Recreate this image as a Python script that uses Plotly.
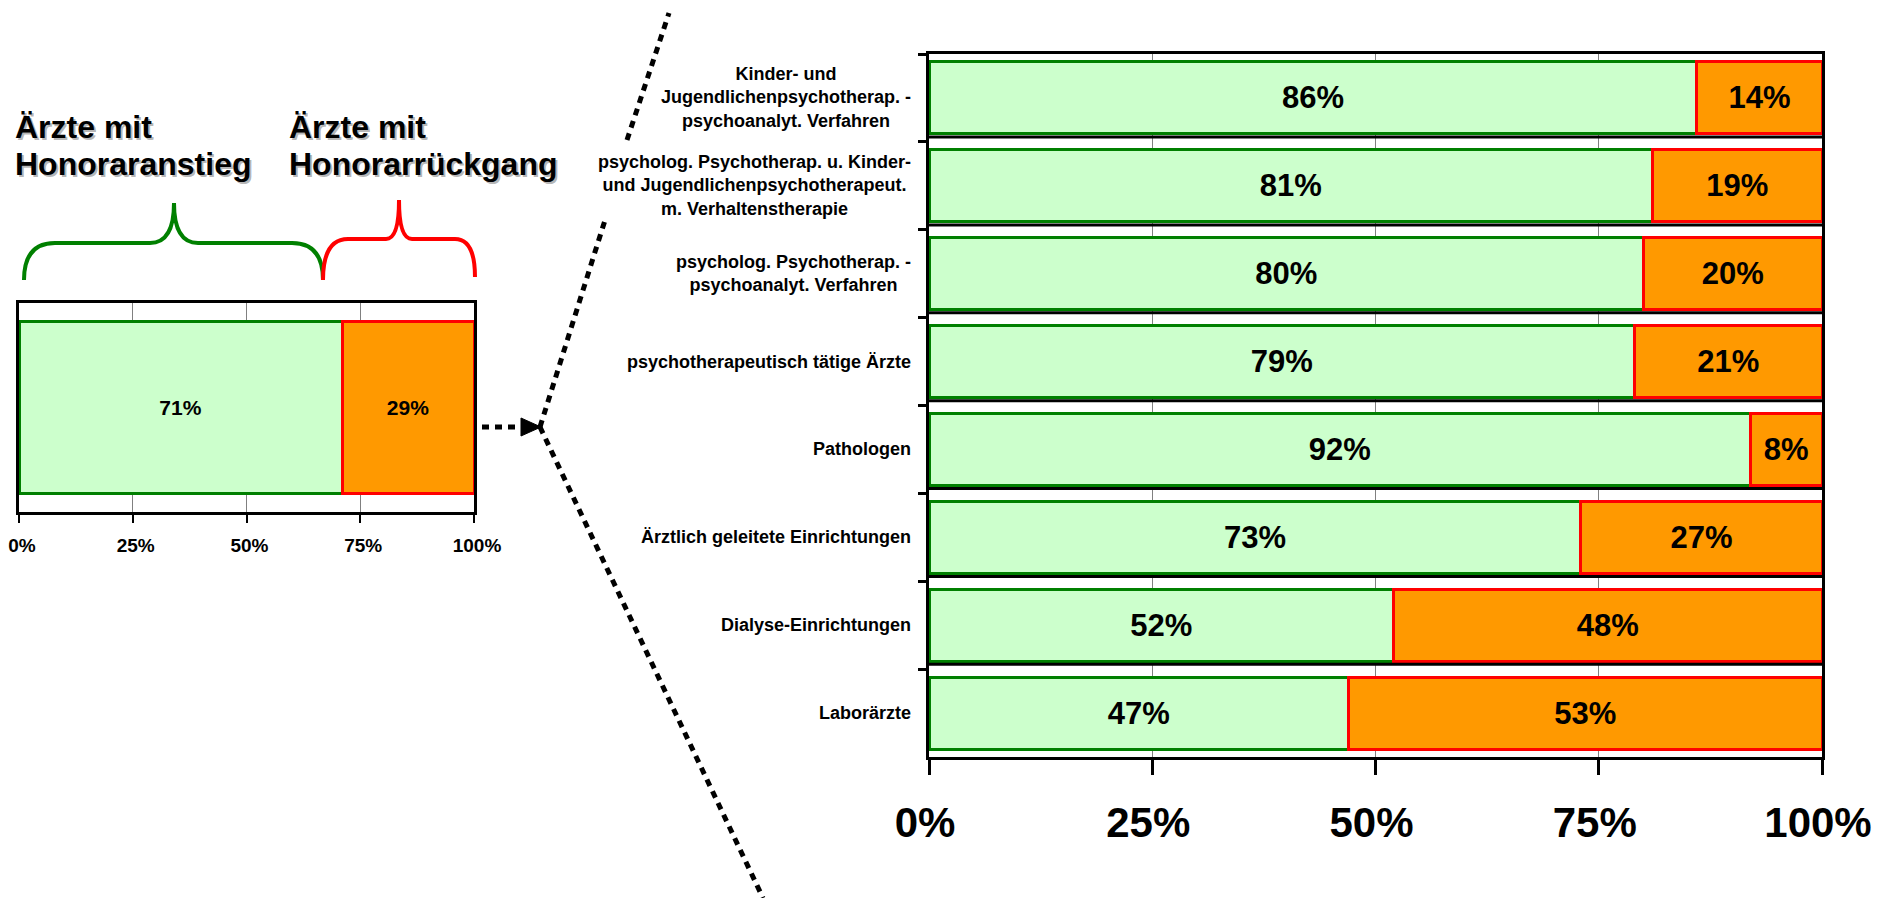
import plotly.graph_objects as go

# page body has an 8px margin: the figure starts at (8, 8) in the window
OFF = 8
W, H = 1881 - OFF, 898 - OFF

# ---------------- data ----------------
overall_category = ["Alle Ärzte"]
overall_increase = [71]
overall_decrease = [29]

categories = [
    "Kinder- und<br>Jugendlichenpsychotherap. -<br>psychoanalyt. Verfahren",
    "psycholog. Psychotherap. u. Kinder-<br>und Jugendlichenpsychotherapeut.<br>m. Verhaltenstherapie",
    "psycholog. Psychotherap. -<br>psychoanalyt. Verfahren",
    "psychotherapeutisch tätige Ärzte",
    "Pathologen",
    "Ärztlich geleitete Einrichtungen",
    "Dialyse-Einrichtungen",
    "Laborärzte",
]
increase = [86, 81, 80, 79, 92, 73, 52, 47]
decrease = [14, 19, 20, 21, 8, 27, 48, 53]

tick_vals = [0, 25, 50, 75, 100]
tick_text = ["0%", "25%", "50%", "75%", "100%"]

title_increase = ["Ärzte mit", "Honoraranstieg"]
title_decrease = ["Ärzte mit", "Honorarrückgang"]

# ---------------- styles ----------------
FONT = "Liberation Sans, Arial, sans-serif"
GREEN_FILL, GREEN_LINE = "#CCFFCC", "#008000"
ORANGE_FILL, RED_LINE = "#FF9900", "#FF0000"


def px(x):
    return (x - OFF) / W


def py(y):
    return 1 - (y - OFF) / H


def pt(x, y):
    return f"{px(x):.5f},{py(y):.5f}"


fig = go.Figure()

# left (overall) chart
fig.add_trace(go.Bar(
    y=overall_category, x=overall_increase, orientation="h", xaxis="x", yaxis="y",
    marker=dict(color=GREEN_FILL, line=dict(color=GREEN_LINE, width=3)),
    texttemplate="%{x}%", textposition="inside", insidetextanchor="middle",
    constraintext="none",
    insidetextfont=dict(family=FONT, size=21, color="black", weight="bold"),
    showlegend=False, hoverinfo="skip"))
fig.add_trace(go.Bar(
    y=overall_category, x=overall_decrease, orientation="h", xaxis="x", yaxis="y",
    marker=dict(color=ORANGE_FILL, line=dict(color=RED_LINE, width=3)),
    texttemplate="%{x}%", textposition="inside", insidetextanchor="middle",
    constraintext="none",
    insidetextfont=dict(family=FONT, size=21, color="black", weight="bold"),
    showlegend=False, hoverinfo="skip"))

# right (groups) chart
fig.add_trace(go.Bar(
    y=categories, x=increase, orientation="h", xaxis="x2", yaxis="y2",
    marker=dict(color=GREEN_FILL, line=dict(color=GREEN_LINE, width=3)),
    texttemplate="%{x}%", textposition="inside", insidetextanchor="middle",
    constraintext="none",
    insidetextfont=dict(family=FONT, size=31, color="black", weight="bold"),
    showlegend=False, hoverinfo="skip"))
fig.add_trace(go.Bar(
    y=categories, x=decrease, orientation="h", xaxis="x2", yaxis="y2",
    marker=dict(color=ORANGE_FILL, line=dict(color=RED_LINE, width=3)),
    texttemplate="%{x}%", textposition="inside", insidetextanchor="middle",
    constraintext="none",
    insidetextfont=dict(family=FONT, size=31, color="black", weight="bold"),
    showlegend=False, hoverinfo="skip"))

common_x = dict(range=[0, 100], tickvals=tick_vals, ticktext=tick_text,
                ticks="outside", tickcolor="black", showline=True, linecolor="black",
                mirror=True, showgrid=True, gridcolor="#808080", gridwidth=1,
                zeroline=False, fixedrange=True, automargin=False,
                ticklabeloverflow="allow")

fig.update_layout(
    width=W, height=H, autosize=False,
    margin=dict(l=0, r=0, t=0, b=0, autoexpand=False),
    paper_bgcolor="white", plot_bgcolor="white",
    barmode="stack", bargap=0.18,
    font=dict(family=FONT, color="black"),
    xaxis=dict(domain=[px(19), px(474)], anchor="y", ticklen=8, tickwidth=2,
               linewidth=3, ticklabelstandoff=6, ticklabelshift=3,
               tickfont=dict(size=19, weight="bold"), **common_x),
    yaxis=dict(domain=[py(512), py(303)], anchor="x", showticklabels=False,
               showline=True, linecolor="black", linewidth=3, mirror=True,
               ticks="", showgrid=False, fixedrange=True, automargin=False),
    xaxis2=dict(domain=[px(929), px(1822)], anchor="y2", ticklen=15, tickwidth=3,
                linewidth=3, ticklabelstandoff=12, ticklabelshift=-4,
                tickfont=dict(size=42, weight="bold"), **common_x),
    yaxis2=dict(domain=[py(757), py(54)], anchor="x2", autorange="reversed",
                categoryorder="array", categoryarray=categories,
                showticklabels=False, showline=True, linecolor="black", linewidth=3,
                mirror=True, ticks="outside", tickson="boundaries", ticklen=8,
                tickwidth=3, tickcolor="black", showgrid=False, fixedrange=True,
                automargin=False),
)

annotations = []
# category labels (centered multi-line)
for cat in categories:
    annotations.append(dict(
        xref="x2 domain", x=0, xshift=-16, xanchor="right",
        yref="y2", y=cat, yanchor="middle", text=cat, align="center",
        showarrow=False, font=dict(family=FONT, size=18, color="black", weight="bold")))

# titles with a soft shadow
for lines, x0 in ((title_increase, 13), (title_decrease, 287)):
    for i, line in enumerate(lines):
        yc = 127 + 37 * i
        for dx, dy, col in ((2, -2, "rgba(0,0,0,0.30)"), (0, 0, "black")):
            annotations.append(dict(
                xref="paper", yref="paper", x=px(x0), y=py(yc), xanchor="left",
                yanchor="middle", xshift=dx, yshift=dy, text=line, showarrow=False,
                font=dict(family=FONT, size=32, color=col, weight="bold")))

shapes = []
# separator lines under each bar of the right chart
for k in range(len(categories) - 1):
    shapes.append(dict(type="line", xref="x2 domain", yref="y2", layer="above",
                       x0=0, x1=1, y0=k + 0.5 - 0.055, y1=k + 0.5 - 0.055,
                       line=dict(color="black", width=3)))

# braces
green_brace = ("M " + pt(24, 280) + " Q " + pt(24, 243) + " " + pt(55, 243) +
               " L " + pt(150, 243) + " Q " + pt(174, 243) + " " + pt(174, 203) +
               " Q " + pt(174, 243) + " " + pt(198, 243) + " L " + pt(292, 243) +
               " Q " + pt(323, 243) + " " + pt(323, 280))
red_brace = ("M " + pt(323, 280) + " Q " + pt(323, 239) + " " + pt(348, 239) +
             " L " + pt(386, 239) + " Q " + pt(399, 239) + " " + pt(399, 200) +
             " Q " + pt(399, 239) + " " + pt(412, 239) + " L " + pt(455, 239) +
             " Q " + pt(475, 239) + " " + pt(475, 277))
shapes.append(dict(type="path", xref="paper", yref="paper", path=green_brace,
                   line=dict(color=GREEN_LINE, width=4)))
shapes.append(dict(type="path", xref="paper", yref="paper", path=red_brace,
                   line=dict(color=RED_LINE, width=4)))

# dotted arrow and fan lines
dot = dict(color="black", width=5, dash="7px,6px")
for (x0, y0, x1, y1) in ((482, 427, 522, 427), (540, 427, 606, 217),
                         (627, 140, 669, 13), (540, 427, 763, 898)):
    shapes.append(dict(type="line", xref="paper", yref="paper",
                       x0=px(x0), y0=py(y0), x1=px(x1), y1=py(y1), line=dot))
shapes.append(dict(type="path", xref="paper", yref="paper",
                   path="M " + pt(521, 418) + " L " + pt(541, 427) + " L " + pt(521, 436) + " Z",
                   fillcolor="black", line=dict(color="black", width=1)))

fig.update_layout(annotations=annotations, shapes=shapes)

fig.write_html("out.html")
